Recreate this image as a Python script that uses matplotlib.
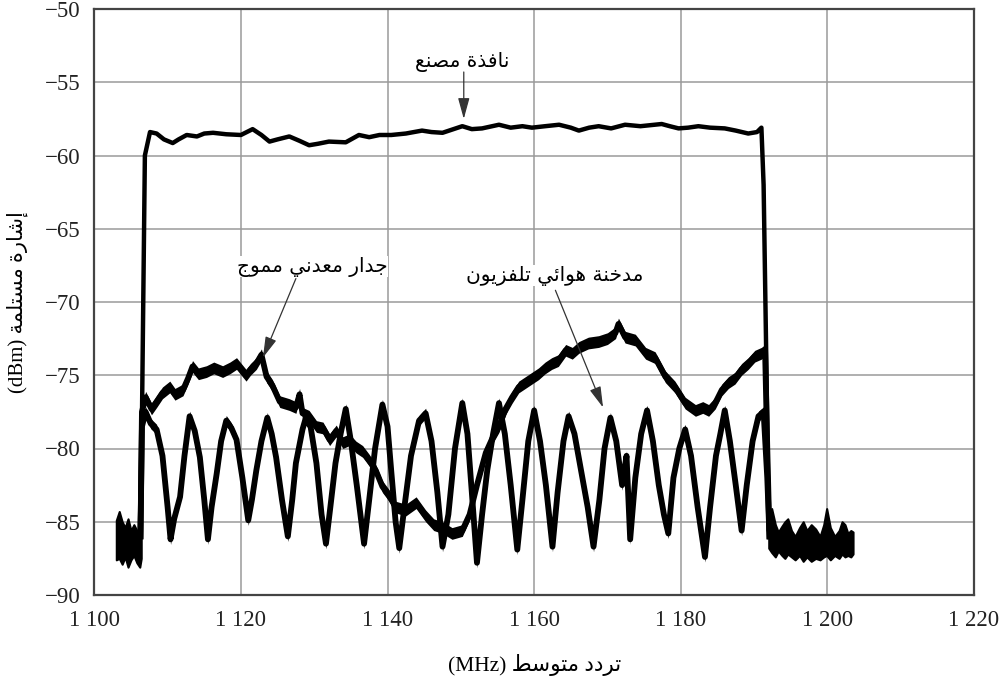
import matplotlib
matplotlib.use("Agg")
import matplotlib.pyplot as plt
import numpy as np

# ---------------- data ----------------
x_ticks = [1100, 1120, 1140, 1160, 1180, 1200, 1220]
x_tick_labels = ["1 100", "1 120", "1 140", "1 160", "1 180", "1 200", "1 220"]
y_ticks = [-90, -85, -80, -75, -70, -65, -60, -55, -50]
y_tick_labels = ["\u221290", "\u221285", "\u221280", "\u221275", "\u221270",
                 "\u221265", "\u221260", "\u221255", "\u221250"]

# noise floor outside the band (lower / upper envelope)
floor_left_x = [1103.0, 1103.4, 1103.8, 1104.2, 1104.6, 1105.0, 1105.4, 1105.8, 1106.2, 1106.4]
floor_left_hi = [-84.9, -84.3, -85.0, -85.4, -84.8, -85.6, -85.2, -85.6, -85.9, -85.5]
floor_left_lo = [-87.6, -87.5, -87.9, -87.4, -88.1, -87.6, -87.3, -87.8, -88.1, -87.5]

floor_right_x = [1192.0, 1192.4, 1192.9, 1193.3, 1193.8, 1194.2, 1194.6, 1195.1, 1195.6,
                 1196.2, 1196.7, 1197.2, 1197.8, 1198.4, 1199.0, 1199.5, 1199.9, 1200.4,
                 1201.0, 1201.6, 1202.0, 1202.4, 1202.8, 1203.2, 1203.5]
floor_right_hi = [-84.5, -84.1, -85.2, -85.7, -85.3, -85.0, -84.8, -85.6, -86.0,
                  -85.4, -85.0, -85.6, -85.2, -85.5, -86.0, -85.2, -84.1, -85.4,
                  -86.0, -85.6, -85.0, -85.2, -85.8, -85.6, -85.7]
floor_right_lo = [-86.8, -87.1, -87.4, -87.0, -87.3, -87.5, -87.2, -87.4, -87.6,
                  -87.3, -87.7, -87.4, -87.7, -87.5, -87.6, -87.4, -87.3, -87.6,
                  -87.3, -87.5, -87.2, -87.4, -87.3, -87.4, -87.2]

# factory window
window_x = [1106.2, 1106.5, 1106.9, 1107.6, 1108.5, 1109.5, 1110.7, 1111.5, 1112.6, 1114.0,
            1115.0, 1116.2, 1118.0, 1120.0, 1121.6, 1122.8, 1123.9, 1125.0, 1126.6, 1128.0,
            1129.3, 1130.5, 1132.0, 1134.3, 1136.1, 1137.5, 1138.9, 1140.5, 1142.5, 1144.7,
            1146.0, 1147.5, 1149.0, 1150.2, 1151.5, 1152.9, 1155.2, 1156.8, 1158.4, 1159.7,
            1161.5, 1163.4, 1165.0, 1166.1, 1167.5, 1168.8, 1170.5, 1172.4, 1174.5, 1177.4,
            1178.5, 1179.7, 1181.0, 1182.4, 1184.0, 1186.0, 1187.5, 1189.2, 1190.4, 1191.0,
            1191.3, 1191.7, 1192.0]
window_y = [-86.0, -78.0, -60.0, -58.4, -58.5, -58.9, -59.15, -58.9, -58.6, -58.7,
            -58.5, -58.45, -58.55, -58.6, -58.2, -58.6, -59.05, -58.9, -58.7, -59.0,
            -59.3, -59.2, -59.05, -59.1, -58.6, -58.75, -58.6, -58.6, -58.5, -58.3,
            -58.4, -58.45, -58.2, -58.0, -58.2, -58.15, -57.9, -58.1, -58.0, -58.1,
            -58.0, -57.9, -58.1, -58.3, -58.1, -58.0, -58.15, -57.9, -58.0, -57.85,
            -58.0, -58.15, -58.1, -58.0, -58.1, -58.15, -58.3, -58.5, -58.4, -58.1,
            -62.0, -75.0, -85.5]

# corrugated metal wall
wall_x = [1106.3, 1106.5, 1107.0, 1107.8, 1108.5, 1109.3, 1110.3, 1111.0, 1112.1, 1112.8,
          1113.4, 1114.2, 1115.3, 1116.3, 1117.5, 1118.5, 1119.4, 1120.7, 1121.3, 1122.1,
          1122.8, 1123.5, 1124.3, 1125.3, 1126.6, 1127.5, 1128.0, 1128.4, 1129.3, 1130.3,
          1131.2, 1132.1, 1133.0, 1133.9, 1134.8, 1135.7, 1136.6, 1137.5, 1138.4, 1139.3,
          1140.2, 1141.1, 1142.5, 1143.9, 1145.2, 1146.3, 1147.5, 1148.8, 1150.2, 1151.2,
          1152.2, 1153.4, 1154.3, 1155.2, 1156.1, 1157.0, 1157.9, 1158.8, 1159.7, 1160.6,
          1161.5, 1162.4, 1163.3, 1164.3, 1165.2, 1166.1, 1167.4, 1168.8, 1170.0, 1171.1,
          1171.5, 1172.4, 1173.8, 1175.2, 1176.5, 1177.9, 1179.2, 1180.6, 1182.0, 1183.0,
          1183.8, 1184.7, 1185.6, 1186.5, 1187.4, 1188.3, 1189.2, 1190.1, 1191.0, 1191.5,
          1191.8, 1192.1]
wall_y = [-86.0, -77.5, -76.5, -77.3, -76.8, -76.2, -75.8, -76.3, -76.0, -75.2,
          -74.4, -74.9, -74.75, -74.5, -74.75, -74.5, -74.2, -75.0, -74.6, -74.2,
          -73.6, -75.1, -75.7, -76.8, -77.0, -77.2, -76.3, -77.6, -77.8, -78.5,
          -78.6, -79.4, -78.8, -79.6, -79.4, -79.9, -80.2, -80.8, -81.5, -82.6,
          -83.2, -84.0, -84.2, -83.7, -84.6, -85.2, -85.4, -85.8, -85.6, -84.5,
          -82.5, -80.3, -79.3, -78.5, -77.3, -76.5, -75.8, -75.5, -75.2, -74.9,
          -74.5, -74.2, -74.0, -73.3, -73.5, -73.1, -72.8, -72.7, -72.5, -72.1,
          -71.5, -72.4, -72.6, -73.5, -73.8, -75.1, -75.8, -76.9, -77.4, -77.2,
          -77.4, -76.9, -76.0, -75.5, -75.2, -74.6, -74.2, -73.7, -73.5, -73.3,
          -80.0, -86.0]

# chimney with TV antenna
chimney_x = [1106.3, 1106.5, 1107.0, 1107.7, 1108.5, 1109.3, 1110.0, 1110.4, 1110.9, 1111.7,
             1112.3, 1113.0, 1113.7, 1114.4, 1115.0, 1115.5, 1116.0, 1116.7, 1117.3, 1118.0,
             1118.7, 1119.4, 1120.2, 1121.0, 1121.5, 1122.1, 1122.8, 1123.6, 1124.2, 1124.8,
             1125.6, 1126.4, 1127.0, 1127.5, 1128.4, 1128.8, 1129.5, 1130.3, 1131.0, 1131.6,
             1132.2, 1132.9, 1133.6, 1134.3, 1135.0, 1135.8, 1136.8, 1137.5, 1138.3, 1139.3,
             1140.0, 1140.5, 1141.1, 1141.6, 1142.3, 1143.2, 1144.3, 1145.2, 1146.0, 1146.8,
             1147.5, 1148.3, 1149.2, 1150.2, 1150.9, 1151.5, 1152.2, 1152.9, 1153.6, 1154.4,
             1155.2, 1156.0, 1156.8, 1157.7, 1158.4, 1159.2, 1160.0, 1160.8, 1161.6, 1162.5,
             1163.2, 1164.0, 1164.7, 1165.5, 1166.4, 1167.3, 1168.1, 1168.9, 1169.6, 1170.4,
             1171.2, 1172.0, 1172.6, 1173.1, 1173.8, 1174.6, 1175.4, 1176.2, 1177.0, 1177.7,
             1178.3, 1179.0, 1179.8, 1180.6, 1181.4, 1182.3, 1183.3, 1184.0, 1184.8, 1185.4,
             1186.0, 1186.7, 1187.5, 1188.3, 1189.0, 1189.8, 1190.6, 1191.3, 1191.8, 1192.1]
chimney_y = [-86.0, -78.5, -77.5, -78.3, -78.7, -80.5, -84.0, -86.2, -84.8, -83.3,
             -80.5, -77.8, -78.8, -80.6, -83.5, -86.2, -84.0, -81.7, -79.5, -78.1,
             -78.6, -79.4, -82.0, -84.9, -83.5, -81.5, -79.5, -77.9, -79.0, -80.6,
             -83.5, -86.0, -83.5, -81.0, -78.7, -78.0, -78.5, -81.0, -84.5, -86.5,
             -84.0, -81.0, -79.0, -77.3, -79.5, -82.5, -86.5, -83.5, -80.0, -77.0,
             -78.5, -81.5, -85.0, -86.8, -84.0, -80.5, -78.1, -77.6, -79.5, -83.0,
             -86.7, -84.5, -80.0, -76.9, -79.0, -83.0, -87.8, -84.5, -81.5, -79.0,
             -76.9, -79.0, -82.5, -86.9, -83.5, -79.5, -77.4, -79.5, -82.5, -86.7,
             -83.0, -79.5, -77.8, -79.0, -81.5, -84.0, -86.7, -83.5, -80.0, -77.9,
             -79.5, -82.5, -80.5, -86.2, -82.0, -79.0, -77.4, -79.5, -82.5, -84.5,
             -85.8, -82.0, -80.0, -78.7, -80.5, -84.0, -87.4, -84.0, -80.5, -79.0,
             -77.4, -79.5, -82.5, -85.6, -82.5, -79.5, -77.8, -77.5, -82.0, -86.0]

# annotation texts
label_window = "نافذة مصنع"
label_wall = "جدار معدني مموج"
label_chimney = "مدخنة هوائي تلفزيون"
xlabel_ar = "تردد متوسط"
xlabel_unit = "(MHz)"
ylabel_ar = "إشارة مستلمة"
ylabel_unit = "(dBm)"

# ---------------- minimal Arabic contextual shaping ----------------
FORMS = {
    "ا": ("\uFE8D", "\uFE8E"), "إ": ("\uFE87", "\uFE88"), "أ": ("\uFE83", "\uFE84"),
    "ة": ("\uFE93", "\uFE94"), "د": ("\uFEA9", "\uFEAA"), "ذ": ("\uFEAB", "\uFEAC"),
    "ر": ("\uFEAD", "\uFEAE"), "ز": ("\uFEAF", "\uFEB0"), "و": ("\uFEED", "\uFEEE"),
    "ت": ("\uFE95", "\uFE96", "\uFE97", "\uFE98"),
    "ج": ("\uFE9D", "\uFE9E", "\uFE9F", "\uFEA0"),
    "خ": ("\uFEA5", "\uFEA6", "\uFEA7", "\uFEA8"),
    "س": ("\uFEB1", "\uFEB2", "\uFEB3", "\uFEB4"),
    "ش": ("\uFEB5", "\uFEB6", "\uFEB7", "\uFEB8"),
    "ص": ("\uFEB9", "\uFEBA", "\uFEBB", "\uFEBC"),
    "ط": ("\uFEC1", "\uFEC2", "\uFEC3", "\uFEC4"),
    "ع": ("\uFEC9", "\uFECA", "\uFECB", "\uFECC"),
    "ف": ("\uFED1", "\uFED2", "\uFED3", "\uFED4"),
    "ل": ("\uFEDD", "\uFEDE", "\uFEDF", "\uFEE0"),
    "م": ("\uFEE1", "\uFEE2", "\uFEE3", "\uFEE4"),
    "ن": ("\uFEE5", "\uFEE6", "\uFEE7", "\uFEE8"),
    "ه": ("\uFEE9", "\uFEEA", "\uFEEB", "\uFEEC"),
    "ي": ("\uFEF1", "\uFEF2", "\uFEF3", "\uFEF4"),
    "ئ": ("\uFE89", "\uFE8A", "\uFE8B", "\uFE8C"),
}


def ar(text):
    out = []
    n = len(text)
    for i, ch in enumerate(text):
        f = FORMS.get(ch)
        if f is None:
            out.append(ch)
            continue
        prev = text[i - 1] if i > 0 else None
        nxt = text[i + 1] if i < n - 1 else None
        jp = prev in FORMS and len(FORMS[prev]) == 4
        jn = nxt in FORMS and len(f) == 4
        if jp and jn:
            out.append(f[3])
        elif jp:
            out.append(f[1])
        elif jn:
            out.append(f[2])
        else:
            out.append(f[0])
    return "".join(out)[::-1]


# ---------------- figure ----------------
plt.rcParams["font.family"] = ["Liberation Serif", "DejaVu Sans"]
plt.rcParams["axes.unicode_minus"] = True

fig = plt.figure(figsize=(10.05, 6.84), dpi=100)
L, R, T, B = 94.3, 974.0, 9.0, 595.0
ax = fig.add_axes([L / 1005, 1 - B / 684, (R - L) / 1005, (B - T) / 684])
ax.set_xlim(1100, 1220)
ax.set_ylim(-90, -50)

ax.set_xticks(x_ticks)
ax.set_xticklabels(x_tick_labels)
ax.set_yticks(y_ticks)
ax.set_yticklabels(y_tick_labels)
ax.tick_params(length=0, labelsize=16.5, colors="#222222")
ax.tick_params(axis="x", pad=11)
ax.tick_params(axis="y", pad=10)
ax.grid(True, color="#9a9a9a", lw=1.1)
ax.set_axisbelow(True)
for s in ax.spines.values():
    s.set_color("#444444")
    s.set_linewidth(1.6)

ink = "#000000"
# noise floors
ax.fill_between(floor_left_x, floor_left_lo, floor_left_hi, color=ink, lw=1.5, edgecolor=ink, zorder=3)
ax.fill_between(floor_right_x, floor_right_lo, floor_right_hi, color=ink, lw=1.5, edgecolor=ink, zorder=3)

# noisy curves (line + envelope)
for xs, ys, spread, lw in [(wall_x, wall_y, 0.4, 4.2), (chimney_x, chimney_y, 0.35, 4.2)]:
    xs = np.asarray(xs)
    ys = np.asarray(ys)
    ax.fill_between(xs, ys - spread, ys + spread, color=ink, lw=0, zorder=3)
    ax.plot(xs, ys, color=ink, lw=lw, zorder=4, solid_joinstyle="round")

ax.plot(window_x, window_y, color=ink, lw=3.2, zorder=4, solid_joinstyle="round")

# annotations
afs = 14.5
arrow_kw = dict(arrowstyle="-|>,head_length=0.8,head_width=0.22", color="#333333",
                lw=0.9, mutation_scale=16, shrinkA=0, shrinkB=0)
ax.annotate("", xy=(1150.4, -57.5), xytext=(1150.4, -54.3), arrowprops=arrow_kw, zorder=5)
ax.text(1150.2, -53.6, ar(label_window), ha="center", va="center", fontsize=afs,
        family=["DejaVu Sans"], zorder=6)

ax.annotate("", xy=(1123.0, -73.8), xytext=(1127.5, -68.4), arrowprops=arrow_kw, zorder=5)
ax.text(1129.7, -67.6, ar(label_wall), ha="center", va="center", fontsize=afs,
        family=["DejaVu Sans"], zorder=6,
        bbox=dict(facecolor="white", edgecolor="none", pad=0.5))

ax.annotate("", xy=(1169.4, -77.2), xytext=(1162.9, -69.2), arrowprops=arrow_kw, zorder=5)
ax.text(1162.8, -68.2, ar(label_chimney), ha="center", va="center", fontsize=afs,
        family=["DejaVu Sans"], zorder=6,
        bbox=dict(facecolor="white", edgecolor="none", pad=0.5))

# axis labels
fig.text(535 / 1005, 1 - 665 / 684, xlabel_unit + " " + ar(xlabel_ar), ha="center",
         va="center", fontsize=15.5, family=["Liberation Serif", "DejaVu Sans"])
fig.text(17 / 1005, 1 - 302 / 684, ylabel_unit + " " + ar(ylabel_ar), ha="center",
         va="center", rotation=90, fontsize=15, family=["Liberation Serif", "DejaVu Sans"])

fig.savefig("out.png", dpi=100)
